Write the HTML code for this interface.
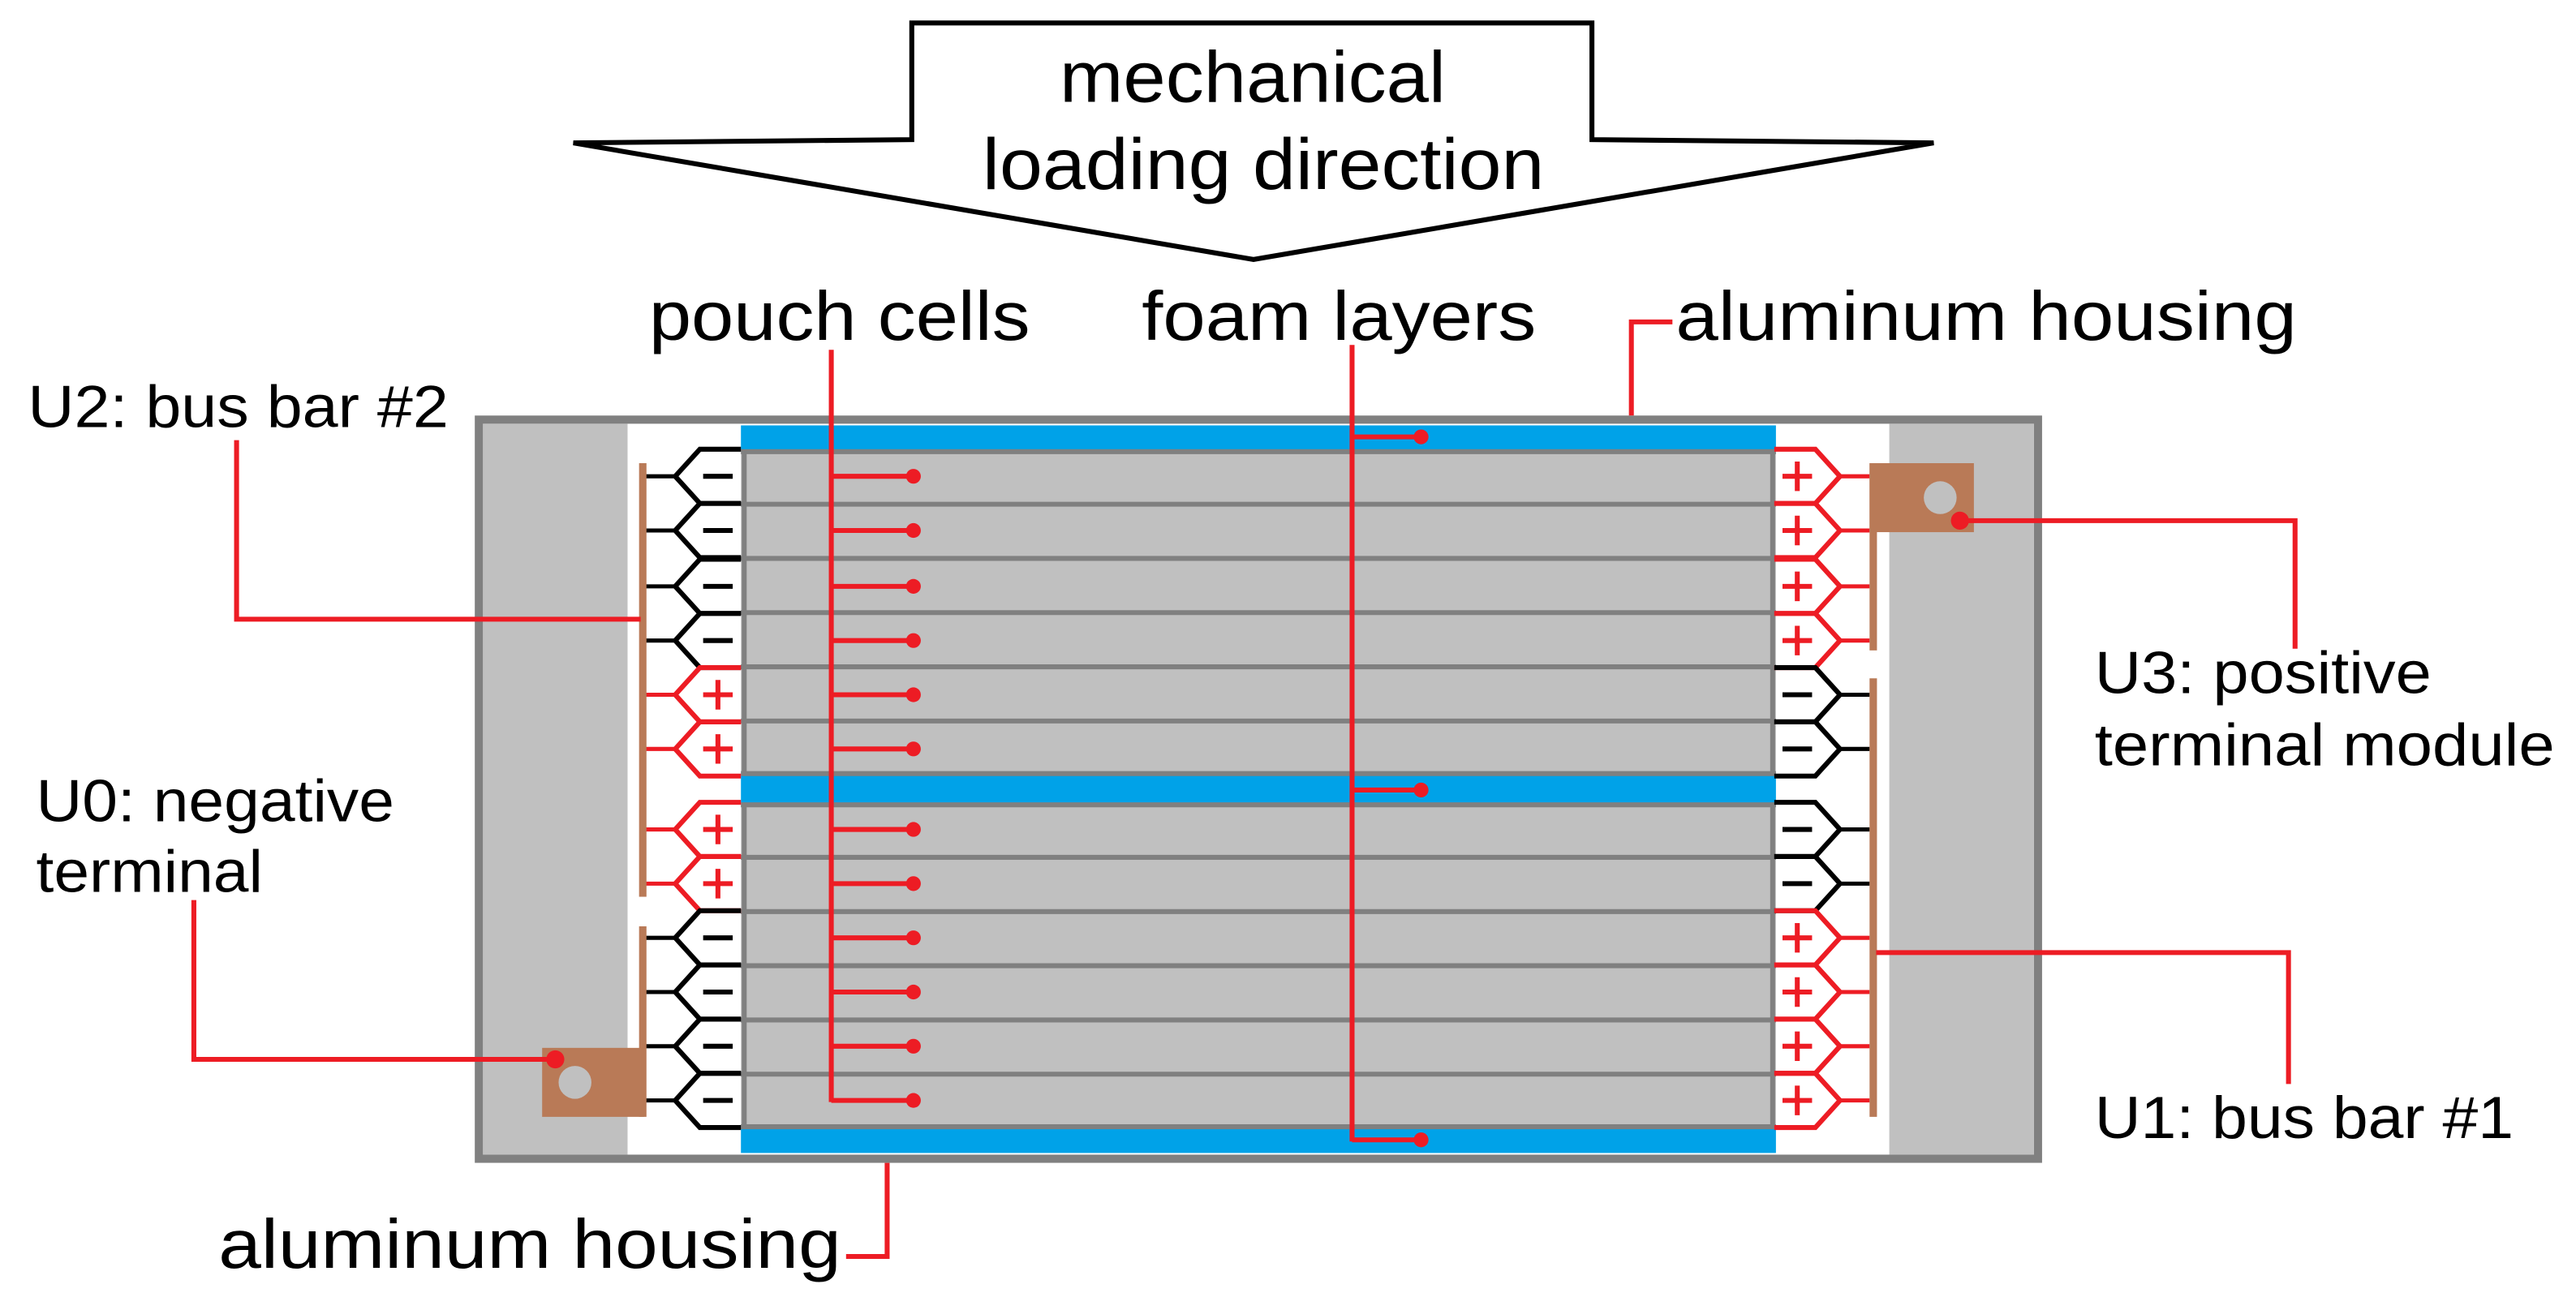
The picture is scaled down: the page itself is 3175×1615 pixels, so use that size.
<!DOCTYPE html>
<html><head><meta charset="utf-8"><style>
html,body{margin:0;padding:0;background:#fff;}
svg{display:block;}
text{font-family:"Liberation Sans",Arial,sans-serif;fill:#000;}
</style></head><body>
<svg width="3175" height="1615" viewBox="0 0 1568 797.6" preserveAspectRatio="none" xmlns="http://www.w3.org/2000/svg">
<defs>
<g id="tabMinus" fill="none" stroke="#000" stroke-width="2.5">
  <line x1="0" y1="0" x2="18" y2="0"/>
  <polyline points="58,-16.5 33,-16.5 18,0 33,16.5 58,16.5" stroke-width="3"/>
  <line x1="35" y1="0" x2="53" y2="0" stroke-width="3"/>
</g>
<g id="tabPlus" fill="none" stroke="#ed1c24" stroke-width="2.5">
  <line x1="0" y1="0" x2="18" y2="0"/>
  <polyline points="58,-16.5 33,-16.5 18,0 33,16.5 58,16.5" stroke-width="3"/>
  <line x1="35" y1="0" x2="53" y2="0" stroke-width="3"/>
  <line x1="44" y1="-9" x2="44" y2="9" stroke-width="3"/>
</g>
</defs>

<!-- arrow -->
<polygon points="555,14 969,14 969,85 1177,87 763,158 349,87 555,85" fill="#fff" stroke="#000" stroke-width="3"/>
<text x="645" y="62" font-size="44" textLength="235" lengthAdjust="spacingAndGlyphs">mechanical</text>
<text x="598" y="115" font-size="44" textLength="342" lengthAdjust="spacingAndGlyphs">loading direction</text>

<!-- housing -->
<rect x="291.5" y="255.5" width="949" height="450" fill="#fff" stroke="#808080" stroke-width="5"/>
<rect x="294" y="258" width="88" height="445" fill="#c0c0c0"/>
<rect x="1150" y="258" width="88" height="445" fill="#c0c0c0"/>

<!-- blue foam -->
<rect x="451" y="259" width="630" height="15" fill="#00a2e8"/>
<rect x="451" y="472" width="630" height="17" fill="#00a2e8"/>
<rect x="451" y="687" width="630" height="15" fill="#00a2e8"/>

<!-- cells -->
<rect x="451" y="274" width="630" height="198" fill="#c0c0c0"/>
<rect x="451" y="489" width="630" height="198" fill="#c0c0c0"/>
<g stroke="#808080" stroke-width="3">
<line x1="451" y1="275" x2="1081" y2="275"/>
<line x1="451" y1="307" x2="1081" y2="307"/>
<line x1="451" y1="340" x2="1081" y2="340"/>
<line x1="451" y1="373" x2="1081" y2="373"/>
<line x1="451" y1="406" x2="1081" y2="406"/>
<line x1="451" y1="439" x2="1081" y2="439"/>
<line x1="451" y1="471" x2="1081" y2="471"/>
<line x1="451" y1="490" x2="1081" y2="490"/>
<line x1="451" y1="522" x2="1081" y2="522"/>
<line x1="451" y1="555" x2="1081" y2="555"/>
<line x1="451" y1="588" x2="1081" y2="588"/>
<line x1="451" y1="621" x2="1081" y2="621"/>
<line x1="451" y1="654" x2="1081" y2="654"/>
<line x1="451" y1="686" x2="1081" y2="686"/>
<line x1="453" y1="274" x2="453" y2="472"/>
<line x1="453" y1="489" x2="453" y2="687"/>
<line x1="1079" y1="274" x2="1079" y2="472"/>
<line x1="1079" y1="489" x2="1079" y2="687"/>
</g>

<!-- left tabs -->
<g transform="translate(393,0)">
<use href="#tabMinus" y="290"/><use href="#tabMinus" y="323"/><use href="#tabMinus" y="357"/><use href="#tabMinus" y="390"/>
<use href="#tabPlus" y="423"/><use href="#tabPlus" y="456"/>
<use href="#tabPlus" y="505"/><use href="#tabPlus" y="538"/>
<use href="#tabMinus" y="571"/><use href="#tabMinus" y="604"/><use href="#tabMinus" y="637"/><use href="#tabMinus" y="670"/>
</g>
<!-- right tabs -->
<g transform="translate(1138,0) scale(-1,1)">
<use href="#tabPlus" y="290"/><use href="#tabPlus" y="323"/><use href="#tabPlus" y="357"/><use href="#tabPlus" y="390"/>
<use href="#tabMinus" y="423"/><use href="#tabMinus" y="456"/>
<use href="#tabMinus" y="505"/><use href="#tabMinus" y="538"/>
<use href="#tabPlus" y="571"/><use href="#tabPlus" y="604"/><use href="#tabPlus" y="637"/><use href="#tabPlus" y="670"/>
</g>

<!-- bus bars -->
<g fill="#b97a57">
<rect x="389" y="282" width="4.5" height="264"/>
<rect x="389" y="564" width="4.5" height="116"/>
<rect x="1138" y="282" width="4.5" height="114"/>
<rect x="1138" y="413" width="4.5" height="267"/>
<rect x="1138" y="282" width="63.5" height="42"/>
<rect x="330" y="638" width="62" height="42"/>
</g>
<circle cx="1181" cy="303" r="10" fill="#c0c0c0"/>
<circle cx="350" cy="659" r="10" fill="#c0c0c0"/>

<!-- leaders -->
<g stroke="#ed1c24" stroke-width="3" fill="none">
<line x1="506" y1="213" x2="506" y2="671"/>
<path d="M506 290H556M506 323H556M506 357H556M506 390H556M506 423H556M506 456H556M506 505H556M506 538H556M506 571H556M506 604H556M506 637H556M506 670H556"/>
<line x1="823" y1="210" x2="823" y2="695"/>
<path d="M823 266H865M823 481H865M823 694H865"/>
<polyline points="1018,196 993,196 993,253"/>
<polyline points="144,268 144,377 390,377"/>
<polyline points="118,548 118,645 338,645"/>
<polyline points="1193,317 1397,317 1397,395"/>
<polyline points="1142,580 1393,580 1393,660"/>
<polyline points="540,708 540,765 515,765"/>
</g>
<g fill="#ed1c24">
<circle cx="556" cy="290" r="4.5"/><circle cx="556" cy="323" r="4.5"/><circle cx="556" cy="357" r="4.5"/><circle cx="556" cy="390" r="4.5"/><circle cx="556" cy="423" r="4.5"/><circle cx="556" cy="456" r="4.5"/>
<circle cx="556" cy="505" r="4.5"/><circle cx="556" cy="538" r="4.5"/><circle cx="556" cy="571" r="4.5"/><circle cx="556" cy="604" r="4.5"/><circle cx="556" cy="637" r="4.5"/><circle cx="556" cy="670" r="4.5"/>
<circle cx="865" cy="266" r="4.5"/><circle cx="865" cy="481" r="4.5"/><circle cx="865" cy="694" r="4.5"/>
<circle cx="1193" cy="317" r="5.5"/><circle cx="338" cy="645" r="5.5"/>
</g>

<!-- labels -->
<text x="395" y="207" font-size="42" textLength="232" lengthAdjust="spacingAndGlyphs">pouch cells</text>
<text x="695" y="207" font-size="42" textLength="240" lengthAdjust="spacingAndGlyphs">foam layers</text>
<text x="1020" y="207" font-size="42" textLength="378" lengthAdjust="spacingAndGlyphs">aluminum housing</text>
<text x="17" y="260" font-size="36" textLength="256" lengthAdjust="spacingAndGlyphs">U2: bus bar #2</text>
<text x="22" y="500" font-size="36" textLength="218" lengthAdjust="spacingAndGlyphs">U0: negative</text>
<text x="22" y="543" font-size="36" textLength="138" lengthAdjust="spacingAndGlyphs">terminal</text>
<text x="1275" y="422" font-size="36" textLength="205" lengthAdjust="spacingAndGlyphs">U3: positive</text>
<text x="1275" y="466" font-size="36" textLength="280" lengthAdjust="spacingAndGlyphs">terminal module</text>
<text x="1275" y="693" font-size="36" textLength="255" lengthAdjust="spacingAndGlyphs">U1: bus bar #1</text>
<text x="133" y="772" font-size="42" textLength="379" lengthAdjust="spacingAndGlyphs">aluminum housing</text>
</svg>
</body></html>
